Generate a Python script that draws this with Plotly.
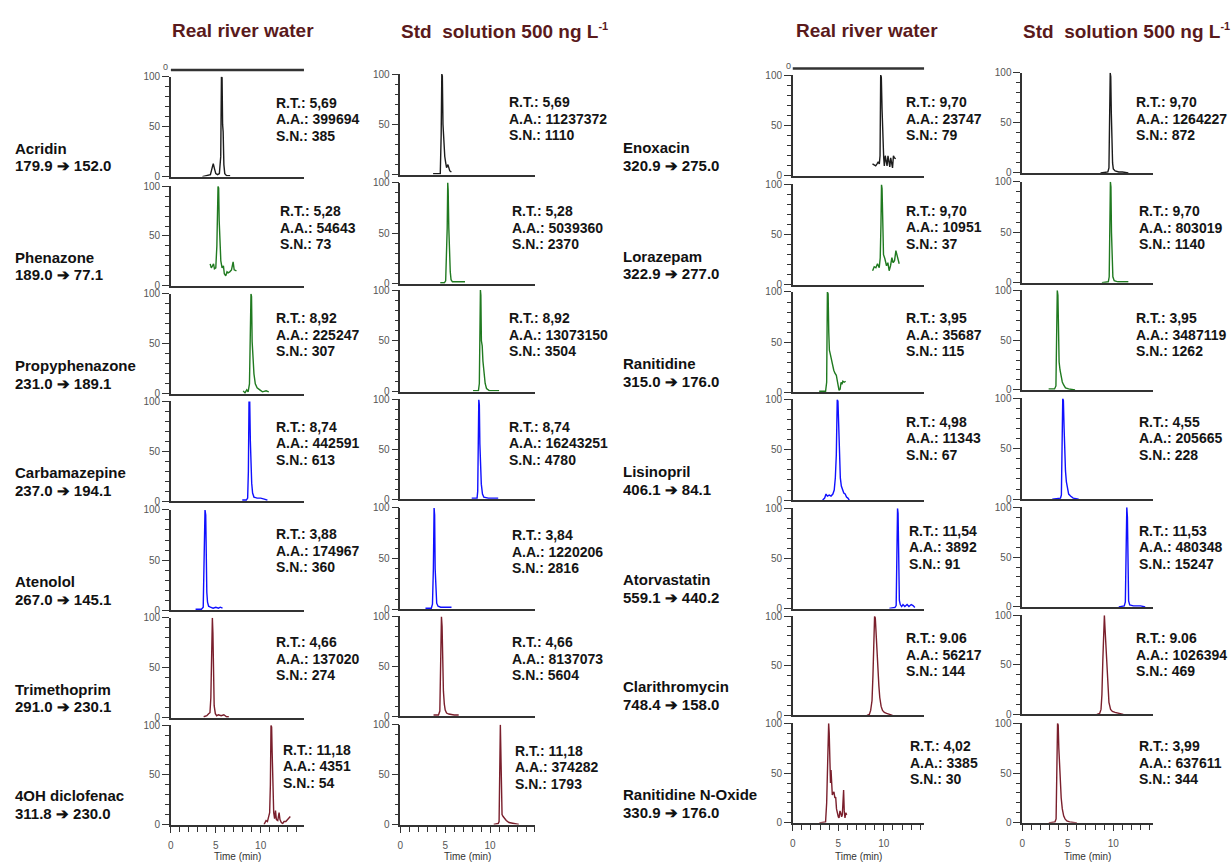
import plotly.graph_objects as go

W, H = 1231, 868
FONT = "Liberation Sans, Arial, sans-serif"

# ---------------- labels ----------------
column_titles = ["Real river water", "Std  solution 500 ng L<sup><span style='font-size:11px'>-1</span></sup>",
                 "Real river water", "Std  solution 500 ng L<sup><span style='font-size:11px'>-1</span></sup>"]

left_names = ["Acridin", "Phenazone", "Propyphenazone", "Carbamazepine",
              "Atenolol", "Trimethoprim", "4OH diclofenac"]
left_transitions = ["179.9 ➔ 152.0", "189.0 ➔ 77.1", "231.0 ➔ 189.1", "237.0 ➔ 194.1",
                    "267.0 ➔ 145.1", "291.0 ➔ 230.1", "311.8 ➔ 230.0"]
right_names = ["Enoxacin", "Lorazepam", "Ranitidine", "Lisinopril",
               "Atorvastatin", "Clarithromycin", "Ranitidine N-Oxide"]
right_transitions = ["320.9 ➔ 275.0", "322.9 ➔ 277.0", "315.0 ➔ 176.0", "406.1 ➔ 84.1",
                     "559.1 ➔ 440.2", "748.4 ➔ 158.0", "330.9 ➔ 176.0"]

time_ticks = [0, 5, 10]
abundance_ticks = [0, 50, 100]

# retention time, peak area and signal-to-noise per column
rt_left_river = ["5,69", "5,28", "8,92", "8,74", "3,88", "4,66", "11,18"]
aa_left_river = ["399694", "54643", "225247", "442591", "174967", "137020", "4351"]
sn_left_river = ["385", "73", "307", "613", "360", "274", "54"]
rt_left_std = ["5,69", "5,28", "8,92", "8,74", "3,84", "4,66", "11,18"]
aa_left_std = ["11237372", "5039360", "13073150", "16243251", "1220206", "8137073", "374282"]
sn_left_std = ["1110", "2370", "3504", "4780", "2816", "5604", "1793"]
rt_right_river = ["9,70", "9,70", "3,95", "4,98", "11,54", "9.06", "4,02"]
aa_right_river = ["23747", "10951", "35687", "11343", "3892", "56217", "3385"]
sn_right_river = ["79", "37", "115", "67", "91", "144", "30"]
rt_right_std = ["9,70", "9,70", "3,95", "4,55", "11,53", "9.06", "3,99"]
aa_right_std = ["1264227", "803019", "3487119", "205665", "480348", "1026394", "637611"]
sn_right_std = ["872", "1140", "1262", "228", "15247", "469", "344"]

# ---------------- chromatograms: time (min) / relative abundance (%) ----------------
acridin_river_t = [3.5, 4.1, 4.4, 4.6, 4.72, 4.85, 5.0, 5.2, 5.4, 5.55, 5.63, 5.7, 5.76, 5.82, 5.9, 6.0, 6.2, 6.6]
acridin_river_y = [0, 1, 2, 9, 13, 8, 3, 2, 3, 20, 100, 99, 52, 45, 12, 3, 1, 1]
acridin_std_t = [3.65, 4.45, 4.55, 4.62, 4.68, 4.75, 4.85, 4.95, 5.05, 5.15, 5.3, 5.4, 5.5, 5.6, 5.7]
acridin_std_y = [1, 1, 40, 100, 98, 50, 28, 18, 12, 7, 10, 5, 4, 3, 3]

phenazone_river_t = [4.37, 4.5, 4.63, 4.75, 4.85, 5.0, 5.12, 5.2, 5.25, 5.32, 5.38, 5.45, 5.56, 5.7, 5.85,
                     5.95, 6.11, 6.25, 6.37, 6.55, 6.75, 6.93, 7.05, 7.3]
phenazone_river_y = [22, 18, 20, 22, 17, 18, 40, 66, 100, 98, 65, 40, 25, 18, 20, 12, 10, 14, 13, 14, 16, 24, 16, 15]
phenazone_std_t = [4.45, 4.9, 5.05, 5.15, 5.22, 5.28, 5.33, 5.4, 5.48, 5.56, 5.65, 5.8, 6.2, 7.2]
phenazone_std_y = [1, 1, 3, 25, 55, 100, 92, 55, 30, 12, 4, 2, 2, 2]

propyphenazone_river_t = [8.05, 8.25, 8.45, 8.6, 8.75, 8.85, 8.92, 8.98, 9.05, 9.15, 9.25, 9.4, 9.6, 9.9, 10.2, 10.6, 10.9]
propyphenazone_river_y = [3, 1, 4, 2, 10, 55, 100, 97, 52, 35, 20, 10, 6, 4, 2, 3, 2]
propyphenazone_std_t = [8.1, 8.7, 8.8, 8.87, 8.92, 8.97, 9.03, 9.12, 9.2, 9.3, 9.45, 9.6, 9.9, 10.5, 11.0]
propyphenazone_std_y = [1, 1, 8, 60, 100, 95, 50, 45, 30, 18, 8, 3, 1, 1, 1]

carbamazepine_river_t = [7.95, 8.4, 8.55, 8.63, 8.7, 8.78, 8.85, 8.92, 9.0, 9.1, 9.25, 9.6, 10.0, 10.4, 10.75]
carbamazepine_river_y = [1, 1, 3, 30, 100, 100, 60, 35, 18, 8, 4, 3, 3, 2, 1]
carbamazepine_std_t = [7.95, 8.55, 8.62, 8.68, 8.74, 8.8, 8.86, 8.93, 9.02, 9.15, 9.3, 9.8, 10.9]
carbamazepine_std_y = [1, 1, 8, 60, 100, 95, 55, 30, 15, 5, 2, 1, 1]

atenolol_river_t = [2.75, 3.4, 3.6, 3.72, 3.8, 3.88, 3.95, 4.0, 4.08, 4.2, 4.4, 4.7, 5.0, 5.3, 5.5, 5.75]
atenolol_river_y = [1, 1, 3, 70, 100, 95, 40, 18, 8, 4, 3, 2, 3, 2, 3, 2]
atenolol_std_t = [2.8, 3.45, 3.58, 3.68, 3.76, 3.82, 3.88, 3.95, 4.05, 4.2, 4.5, 5.0, 5.7]
atenolol_std_y = [1, 1, 5, 40, 100, 93, 40, 14, 6, 3, 2, 2, 2]

trimethoprim_river_t = [3.65, 4.0, 4.2, 4.35, 4.45, 4.55, 4.62, 4.68, 4.75, 4.82, 4.95, 5.1, 5.3, 5.6, 5.9, 6.2, 6.45]
trimethoprim_river_y = [1, 2, 4, 5, 20, 85, 100, 85, 40, 12, 4, 2, 3, 2, 3, 1, 1]
trimethoprim_std_t = [3.7, 4.25, 4.4, 4.5, 4.58, 4.65, 4.72, 4.8, 4.9, 5.0, 5.15, 5.4, 6.0, 6.5]
trimethoprim_std_y = [1, 1, 5, 60, 100, 90, 50, 25, 12, 6, 3, 2, 1, 1]

diclofenac_river_t = [10.37, 10.6, 10.75, 10.9, 11.0, 11.08, 11.15, 11.22, 11.28, 11.36, 11.45, 11.55, 11.65,
                      11.75, 11.9, 12.05, 12.15, 12.3, 12.45, 12.6, 12.8, 13.0, 13.3]
diclofenac_river_y = [0, 4, 3, 10, 12, 40, 100, 98, 72, 35, 12, 6, 14, 5, 4, 12, 5, 2, 1, 3, 3, 5, 8]
diclofenac_std_t = [10.4, 10.9, 11.0, 11.08, 11.14, 11.2, 11.26, 11.33, 11.45, 11.6, 11.8, 12.1, 12.5, 13.2]
diclofenac_std_y = [0, 1, 3, 70, 100, 72, 30, 10, 8, 6, 4, 2, 1, 0]

enoxacin_river_t = [8.75, 8.95, 9.1, 9.25, 9.38, 9.5, 9.58, 9.65, 9.72, 9.8, 9.88, 9.98, 10.05, 10.15, 10.25,
                    10.35, 10.45, 10.55, 10.65, 10.75, 10.85, 10.95, 11.05, 11.15, 11.3]
enoxacin_river_y = [12, 11, 10, 12, 14, 12, 20, 100, 98, 66, 27, 18, 10, 20, 15, 10, 20, 14, 9, 18, 14, 8, 20, 18, 17]
enoxacin_std_t = [8.6, 9.4, 9.52, 9.6, 9.66, 9.72, 9.78, 9.85, 9.92, 10.0, 10.2, 10.6, 11.0, 11.65]
enoxacin_std_y = [0, 1, 5, 40, 100, 96, 60, 25, 10, 4, 2, 1, 1, 0]

lorazepam_river_t = [8.76, 8.94, 9.12, 9.3, 9.49, 9.6, 9.68, 9.74, 9.8, 9.87, 9.96, 10.11, 10.29, 10.44, 10.58,
                     10.73, 10.88, 11.02, 11.17, 11.32, 11.5, 11.68]
lorazepam_river_y = [14, 18, 17, 21, 17, 27, 60, 100, 96, 67, 30, 26, 19, 22, 14, 19, 27, 22, 24, 34, 27, 21]
lorazepam_std_t = [8.75, 9.45, 9.55, 9.62, 9.68, 9.74, 9.8, 9.86, 9.95, 10.1, 10.5, 11.0, 11.65]
lorazepam_std_y = [0, 1, 6, 50, 100, 95, 50, 20, 6, 2, 1, 1, 1]

ranitidine_river_t = [2.9, 3.6, 3.72, 3.8, 3.88, 3.95, 4.02, 4.12, 4.25, 4.38, 4.5, 4.63, 4.78, 4.88, 4.98,
                      5.08, 5.2, 5.3, 5.4, 5.5, 5.65, 5.8]
ranitidine_river_y = [1, 1, 10, 100, 98, 60, 42, 38, 32, 26, 22, 19, 17, 12, 4, 2, 3, 10, 8, 11, 10, 11]
ranitidine_std_t = [2.9, 3.55, 3.7, 3.78, 3.85, 3.92, 3.98, 4.05, 4.15, 4.25, 4.4, 4.55, 4.75, 5.1, 5.8]
ranitidine_std_y = [1, 1, 4, 60, 100, 95, 50, 28, 20, 14, 8, 5, 2, 1, 0]

lisinopril_river_t = [3.28, 3.5, 3.65, 3.8, 4.0, 4.2, 4.4, 4.55, 4.67, 4.78, 4.88, 4.96, 5.03, 5.12, 5.22,
                      5.33, 5.45, 5.6, 5.75, 5.9, 6.05, 6.2]
lisinopril_river_y = [0, 2, 6, 4, 5, 4, 6, 10, 22, 45, 100, 98, 78, 50, 22, 14, 10, 7, 6, 3, 2, 0]
lisinopril_std_t = [3.3, 4.2, 4.3, 4.38, 4.45, 4.52, 4.6, 4.67, 4.75, 4.85, 4.95, 5.1, 5.3, 5.6, 6.2]
lisinopril_std_y = [0, 1, 4, 40, 100, 98, 70, 47, 28, 17, 10, 5, 3, 1, 0]

atorvastatin_river_t = [10.6, 11.2, 11.35, 11.43, 11.5, 11.56, 11.62, 11.7, 11.8, 11.95, 12.1, 12.3, 12.55,
                        12.75, 13.0, 13.2, 13.4]
atorvastatin_river_y = [0, 1, 3, 78, 100, 95, 40, 8, 4, 2, 4, 2, 4, 2, 4, 3, 1]
atorvastatin_std_t = [10.6, 11.2, 11.32, 11.4, 11.48, 11.55, 11.6, 11.68, 11.8, 12.2, 13.0, 13.5]
atorvastatin_std_y = [0, 1, 5, 76, 100, 90, 34, 6, 2, 1, 1, 0]

clarithromycin_river_t = [8.15, 8.4, 8.55, 8.7, 8.8, 8.9, 8.98, 9.06, 9.14, 9.25, 9.35, 9.45, 9.55, 9.7, 9.85,
                          10.05, 10.3, 10.6, 10.95]
clarithromycin_river_y = [0, 1, 5, 15, 40, 80, 100, 98, 82, 62, 46, 30, 18, 9, 5, 3, 2, 1, 0]
clarithromycin_std_t = [8.2, 8.5, 8.65, 8.75, 8.85, 8.95, 9.02, 9.1, 9.2, 9.3, 9.4, 9.52, 9.7, 9.9, 10.2, 10.6, 11.1]
clarithromycin_std_y = [0, 1, 5, 20, 55, 95, 100, 85, 65, 42, 25, 12, 5, 3, 2, 1, 0]

noxide_river_t = [2.92, 3.6, 3.72, 3.85, 3.94, 4.0, 4.08, 4.14, 4.2, 4.27, 4.34, 4.45, 4.52, 4.62, 4.71, 4.8,
                  4.89, 5.0, 5.08, 5.18, 5.26, 5.36, 5.44, 5.52, 5.58, 5.65, 5.73, 5.82, 5.92]
noxide_river_y = [0, 1, 20, 80, 100, 90, 54, 40, 53, 45, 28, 30, 31, 25, 26, 14, 8, 6, 5, 12, 10, 6, 8, 28,
                  33, 12, 5, 10, 8]
noxide_std_t = [2.92, 3.6, 3.72, 3.8, 3.88, 3.95, 4.02, 4.1, 4.18, 4.28, 4.4, 4.55, 4.7, 4.9, 5.2, 6.0]
noxide_std_y = [0, 1, 4, 50, 100, 98, 75, 55, 40, 25, 14, 7, 4, 2, 1, 0]

# ---------------- panel organisation ----------------
columns = [
    [(acridin_river_t, acridin_river_y), (phenazone_river_t, phenazone_river_y),
     (propyphenazone_river_t, propyphenazone_river_y), (carbamazepine_river_t, carbamazepine_river_y),
     (atenolol_river_t, atenolol_river_y), (trimethoprim_river_t, trimethoprim_river_y),
     (diclofenac_river_t, diclofenac_river_y)],
    [(acridin_std_t, acridin_std_y), (phenazone_std_t, phenazone_std_y),
     (propyphenazone_std_t, propyphenazone_std_y), (carbamazepine_std_t, carbamazepine_std_y),
     (atenolol_std_t, atenolol_std_y), (trimethoprim_std_t, trimethoprim_std_y),
     (diclofenac_std_t, diclofenac_std_y)],
    [(enoxacin_river_t, enoxacin_river_y), (lorazepam_river_t, lorazepam_river_y),
     (ranitidine_river_t, ranitidine_river_y), (lisinopril_river_t, lisinopril_river_y),
     (atorvastatin_river_t, atorvastatin_river_y), (clarithromycin_river_t, clarithromycin_river_y),
     (noxide_river_t, noxide_river_y)],
    [(enoxacin_std_t, enoxacin_std_y), (lorazepam_std_t, lorazepam_std_y),
     (ranitidine_std_t, ranitidine_std_y), (lisinopril_std_t, lisinopril_std_y),
     (atorvastatin_std_t, atorvastatin_std_y), (clarithromycin_std_t, clarithromycin_std_y),
     (noxide_std_t, noxide_std_y)],
]
peak_info = [
    (rt_left_river, aa_left_river, sn_left_river),
    (rt_left_std, aa_left_std, sn_left_std),
    (rt_right_river, aa_right_river, sn_right_river),
    (rt_right_std, aa_right_std, sn_right_std),
]

BLACK, GREEN, BLUE, MAROON = "#1c1c1c", "#207a20", "#1010ff", "#7a1f2c"
row_colors = [BLACK, GREEN, GREEN, BLUE, BLUE, MAROON, MAROON]

# panel geometry in pixels
col_x = [(168.3, 301.7), (398.3, 533.3), (791.7, 923.3), (1021.7, 1153.3)]
col_xmax = [14.82, 15.0, 14.41, 14.41]
row_top = [[71.7, 182.7, 291.7, 401, 511, 620.3, 729.3],
           [69, 179, 288, 399, 509, 619, 728.7],
           [70, 181, 290, 399, 509.3, 618.7, 727.3],
           [67.7, 178.3, 288.3, 398, 508.3, 617.7, 727.3]]
row_bot = [[173, 283.7, 393.3, 502, 612.7, 721.7, 830],
           [171, 281.7, 391, 500, 611.7, 720, 830],
           [172.3, 282.7, 391.7, 501, 611, 719.3, 828.3],
           [169.3, 280.7, 389.3, 500, 609.3, 718.3, 828.3]]
txt_x = [[271.7, 275.7, 271.7, 271.7, 271.7, 271.7, 279],
         [505, 508.3, 505, 505, 508.3, 508.3, 511.7],
         [903.3, 903.3, 903.3, 903.3, 906.7, 903.3, 907.7],
         [1133.3, 1136.7, 1133.3, 1136.7, 1136.7, 1133.3, 1136.7]]
txt_y = [[98.3, 208.3, 316.7, 426.7, 535.7, 645, 754.3],
         [97.7, 208.3, 316.7, 426.7, 536.7, 645, 755],
         [97.7, 207.7, 316.7, 421.7, 532.3, 641, 750.7],
         [97.7, 208.3, 316.7, 421.7, 532.3, 641, 750.7]]
LINE_GAP = 16.7


def px(x):
    return x / W


def py(y):
    return 1 - y / H


fig = go.Figure()
layout = {}
annotations = []
shapes = []

tick_font = dict(family=FONT, size=10, color="#555555")

for c in range(4):
    for r in range(7):
        k = c * 7 + r + 1
        xa = "xaxis" if k == 1 else f"xaxis{k}"
        ya = "yaxis" if k == 1 else f"yaxis{k}"
        t, y = columns[c][r]
        fig.add_trace(go.Scatter(
            x=t, y=y, mode="lines",
            line=dict(color=row_colors[r], width=1.4),
            xaxis=f"x{k}" if k > 1 else "x", yaxis=f"y{k}" if k > 1 else "y",
            showlegend=False, hoverinfo="skip",
        ))
        bottom = r == 6
        xaxis = dict(
            domain=[px(col_x[c][0]), px(col_x[c][1])],
            anchor=f"y{k}" if k > 1 else "y",
            range=[0, col_xmax[c]],
            showline=True, linecolor="#333333", linewidth=2,
            showgrid=False, zeroline=False,
            showticklabels=bottom,
            fixedrange=True,
        )
        if bottom:
            xaxis.update(
                ticks="outside", tickmode="array", tickvals=time_ticks,
                ticklen=6, tickwidth=1, tickcolor="#333333",
                minor=dict(dtick=1, tick0=0, ticks="outside", ticklen=5, tickwidth=1, tickcolor="#333333"),
                tickfont=tick_font, ticklabelstandoff=4,
            )
        else:
            xaxis.update(ticks="")
        layout[xa] = xaxis
        layout[ya] = dict(
            domain=[py(row_bot[c][r]), py(row_top[c][r])],
            anchor=f"x{k}" if k > 1 else "x",
            range=[0, 100],
            showline=True, linecolor="#333333", linewidth=1.5,
            showgrid=False, zeroline=False,
            ticks="outside", tickmode="array", tickvals=abundance_ticks,
            ticklen=7, tickwidth=1, tickcolor="#333333",
            minor=dict(dtick=10, tick0=0, ticks="outside", ticklen=4, tickwidth=1, tickcolor="#333333"),
            tickfont=tick_font,
            fixedrange=True,
        )
        # peak information block
        rt, aa, sn = peak_info[c]
        for j, text in enumerate([f"R.T.: {rt[r]}", f"A.A.: {aa[r]}", f"S.N.: {sn[r]}"]):
            annotations.append(dict(
                text=text, x=px(txt_x[c][r]), y=py(txt_y[c][r] + j * LINE_GAP),
                xref="paper", yref="paper", xanchor="left", yanchor="middle",
                showarrow=False, font=dict(family=FONT, size=14, color="#151515", weight="bold"),
            ))
    # time axis title under the bottom panel
    annotations.append(dict(
        text="Time (min)", x=px((col_x[c][0] + col_x[c][1]) / 2), y=py(862),
        xref="paper", yref="paper", xanchor="center", yanchor="middle",
        showarrow=False, font=dict(family=FONT, size=10, color="#333333"),
    ))

# compound names and MRM transitions
for names, trans, x0, bots in [(left_names, left_transitions, 10, row_bot[0]),
                               (right_names, right_transitions, 620, row_bot[2])]:
    for r in range(7):
        for text, off in [(names[r], 29), (trans[r], 11)]:
            annotations.append(dict(
                text=text, x=px(x0), y=py(bots[r] - off),
                xref="paper", yref="paper", xanchor="left", yanchor="middle",
                showarrow=False, font=dict(family=FONT, size=15, color="#111111", weight="bold"),
            ))

# column headings
title_font = dict(family=FONT, size=19, color="#5a1a1c", weight="bold")
for text, x, anchor in [(column_titles[0], 241, "center"), (column_titles[1], 397, "left"),
                        (column_titles[2], 866, "center"), (column_titles[3], 1020, "left")]:
    annotations.append(dict(
        text=text, x=px(x), y=py(25), xref="paper", yref="paper",
        xanchor=anchor, yanchor="middle", showarrow=False, font=title_font,
    ))

# baseline of the trace cut off above the first row
for (x0, x1), yb, lx in [((168.3, 301.7), 65, 163), ((791.7, 923.3), 63.5, 787)]:
    shapes.append(dict(type="line", xref="paper", yref="paper",
                       x0=px(x0), x1=px(x1), y0=py(yb), y1=py(yb),
                       line=dict(color="#333333", width=2.5)))
    annotations.append(dict(text="0", x=px(lx), y=py(yb - 3), xref="paper", yref="paper",
                            xanchor="center", yanchor="middle", showarrow=False,
                            font=dict(family=FONT, size=9, color="#555555")))

fig.update_layout(
    width=W, height=H,
    margin=dict(l=0, r=0, t=0, b=0),
    paper_bgcolor="white", plot_bgcolor="white",
    annotations=annotations, shapes=shapes,
    showlegend=False,
    **layout,
)

fig.write_html("out.html", config={"displayModeBar": False})
